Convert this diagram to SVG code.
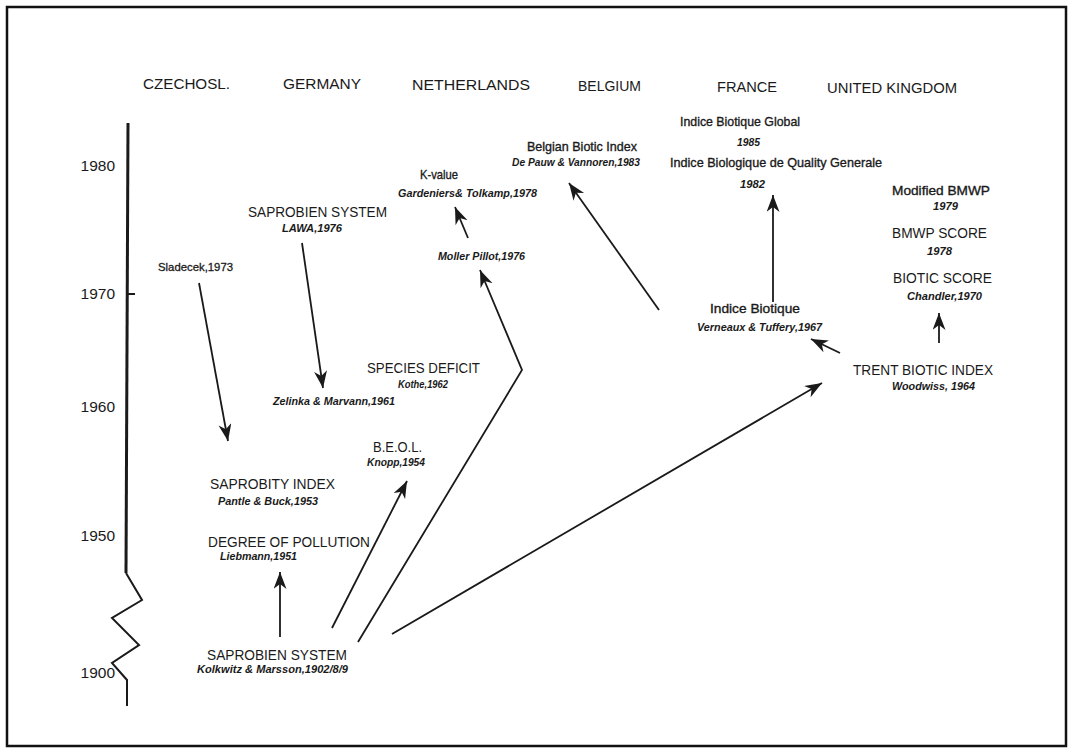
<svg xmlns="http://www.w3.org/2000/svg" width="1072" height="751" viewBox="0 0 1072 751">
<defs>
<style>
text{font-family:"Liberation Sans",Arial,sans-serif;fill:#1a1a1a}
.h{font-size:15.5px}
.y{font-size:15.5px;text-anchor:end}
.t{font-size:14px}
.m{font-size:13px;stroke:#1a1a1a;stroke-width:0.35}
.i{font-size:10.5px;font-style:italic;font-weight:bold}
.s{font-size:11.5px;stroke:#1a1a1a;stroke-width:0.3}
.c{fill:none;stroke:#1a1a1a;stroke-width:1.8;marker-end:url(#ah)}
.ax{fill:none;stroke:#1a1a1a;stroke-width:3}
.zz{fill:none;stroke:#1a1a1a;stroke-width:2}
</style>
<marker id="ah" markerUnits="userSpaceOnUse" markerWidth="20" markerHeight="14" refX="17" refY="6.5" orient="auto">
<path d="M0,0 L17,6.5 L0,13 L5,6.5 Z" fill="#1a1a1a"/>
</marker>
</defs>
<rect x="7" y="7" width="1059" height="739" fill="#fff" stroke="#111" stroke-width="2.5"/>

<g id="headers">
<text class="h" x="143" y="89" textLength="87" lengthAdjust="spacingAndGlyphs">CZECHOSL.</text>
<text class="h" x="283" y="89" textLength="78" lengthAdjust="spacingAndGlyphs">GERMANY</text>
<text class="h" x="412" y="90" textLength="118" lengthAdjust="spacingAndGlyphs">NETHERLANDS</text>
<text class="h" x="578" y="91" textLength="63" lengthAdjust="spacingAndGlyphs">BELGIUM</text>
<text class="h" x="717" y="92" textLength="60" lengthAdjust="spacingAndGlyphs">FRANCE</text>
<text class="h" x="827" y="93" textLength="130" lengthAdjust="spacingAndGlyphs">UNITED KINGDOM</text>
</g>

<g id="axis">
<path class="ax" d="M128,123 L126,573"/>
<path class="zz" d="M126,573 L142,600 L112,618 L139,645 L112,663 L127,680 L127,706"/>
<path class="zz" d="M128,294 L135,294"/>
<text class="y" x="115" y="171">1980</text>
<text class="y" x="115" y="299">1970</text>
<text class="y" x="115" y="412">1960</text>
<text class="y" x="115" y="541">1950</text>
<text class="y" x="115" y="678">1900</text>
</g>

<g id="connectors">
<path class="c" d="M199,283 L228,441"/>
<path class="c" d="M302,243 L323,388"/>
<path class="c" d="M468,238 L455,207"/>
<path class="c" d="M358,642 L522,370 L480,270"/>
<path class="c" d="M332,628 L407,481"/>
<path class="c" d="M280,637 L280,572"/>
<path class="c" d="M392,634 L822,383"/>
<path class="c" d="M840,353 L811,339"/>
<path class="c" d="M773,302 L773,195"/>
<path class="c" d="M659,310 L569,183"/>
<path class="c" d="M939,343 L939,313"/>
</g>

<g id="n-sladecek"><text class="s" x="158" y="271" textLength="75" lengthAdjust="spacingAndGlyphs">Sladecek,1973</text></g>
<g id="n-lawa">
<text class="t" x="248" y="217" textLength="139" lengthAdjust="spacingAndGlyphs">SAPROBIEN SYSTEM</text>
<text class="i" x="282" y="232" textLength="60" lengthAdjust="spacingAndGlyphs">LAWA,1976</text>
</g>
<g id="n-zelinka"><text class="i" x="273" y="405" textLength="122" lengthAdjust="spacingAndGlyphs">Zelinka &amp; Marvann,1961</text></g>
<g id="n-species">
<text class="t" x="367" y="373" textLength="113" lengthAdjust="spacingAndGlyphs">SPECIES DEFICIT</text>
<text class="i" x="398" y="388" textLength="50" lengthAdjust="spacingAndGlyphs">Kothe,1962</text>
</g>
<g id="n-kvalue">
<text class="m" x="420" y="179" textLength="38" lengthAdjust="spacingAndGlyphs">K-value</text>
<text class="i" x="398" y="197" textLength="139" lengthAdjust="spacingAndGlyphs">Gardeniers&amp; Tolkamp,1978</text>
</g>
<g id="n-moller"><text class="i" x="438" y="260" textLength="87" lengthAdjust="spacingAndGlyphs">Moller Pillot,1976</text></g>
<g id="n-beol">
<text class="t" x="373" y="452" textLength="49" lengthAdjust="spacingAndGlyphs">B.E.O.L.</text>
<text class="i" x="367" y="466" textLength="58" lengthAdjust="spacingAndGlyphs">Knopp,1954</text>
</g>
<g id="n-saprobity">
<text class="t" x="210" y="489" textLength="125" lengthAdjust="spacingAndGlyphs">SAPROBITY INDEX</text>
<text class="i" x="218" y="505" textLength="100" lengthAdjust="spacingAndGlyphs">Pantle &amp; Buck,1953</text>
</g>
<g id="n-degree">
<text class="t" x="208" y="547" textLength="162" lengthAdjust="spacingAndGlyphs">DEGREE OF POLLUTION</text>
<text class="i" x="220" y="560" textLength="77" lengthAdjust="spacingAndGlyphs">Liebmann,1951</text>
</g>
<g id="n-saprobien">
<text class="t" x="207" y="660" textLength="140" lengthAdjust="spacingAndGlyphs">SAPROBIEN SYSTEM</text>
<text class="i" x="197" y="673" textLength="151" lengthAdjust="spacingAndGlyphs">Kolkwitz &amp; Marsson,1902/8/9</text>
</g>
<g id="n-trent">
<text class="t" x="853" y="375" textLength="140" lengthAdjust="spacingAndGlyphs">TRENT BIOTIC INDEX</text>
<text class="i" x="892" y="390" textLength="83" lengthAdjust="spacingAndGlyphs">Woodwiss, 1964</text>
</g>
<g id="n-indice">
<text class="m" x="710" y="313" textLength="90" lengthAdjust="spacingAndGlyphs">Indice Biotique</text>
<text class="i" x="697" y="331" textLength="125" lengthAdjust="spacingAndGlyphs">Verneaux &amp; Tuffery,1967</text>
</g>
<g id="n-ibg">
<text class="m" x="680" y="126" textLength="120" lengthAdjust="spacingAndGlyphs">Indice Biotique Global</text>
<text class="i" x="737" y="146" textLength="23" lengthAdjust="spacingAndGlyphs">1985</text>
</g>
<g id="n-ibqg">
<text class="m" x="670" y="167" textLength="212" lengthAdjust="spacingAndGlyphs">Indice Biologique de Quality Generale</text>
<text class="i" x="740" y="188" textLength="25" lengthAdjust="spacingAndGlyphs">1982</text>
</g>
<g id="n-belgian">
<text class="m" x="527" y="151" textLength="110" lengthAdjust="spacingAndGlyphs">Belgian Biotic Index</text>
<text class="i" x="512" y="166" textLength="128" lengthAdjust="spacingAndGlyphs">De Pauw &amp; Vannoren,1983</text>
</g>
<g id="n-mbmwp">
<text class="m" x="892" y="195" textLength="98" lengthAdjust="spacingAndGlyphs">Modified BMWP</text>
<text class="i" x="933" y="210" textLength="25" lengthAdjust="spacingAndGlyphs">1979</text>
</g>
<g id="n-bmwp">
<text class="t" x="892" y="238" textLength="95" lengthAdjust="spacingAndGlyphs">BMWP SCORE</text>
<text class="i" x="927" y="255" textLength="25" lengthAdjust="spacingAndGlyphs">1978</text>
</g>
<g id="n-biotic">
<text class="t" x="893" y="283" textLength="99" lengthAdjust="spacingAndGlyphs">BIOTIC SCORE</text>
<text class="i" x="907" y="300" textLength="75" lengthAdjust="spacingAndGlyphs">Chandler,1970</text>
</g>
</svg>
